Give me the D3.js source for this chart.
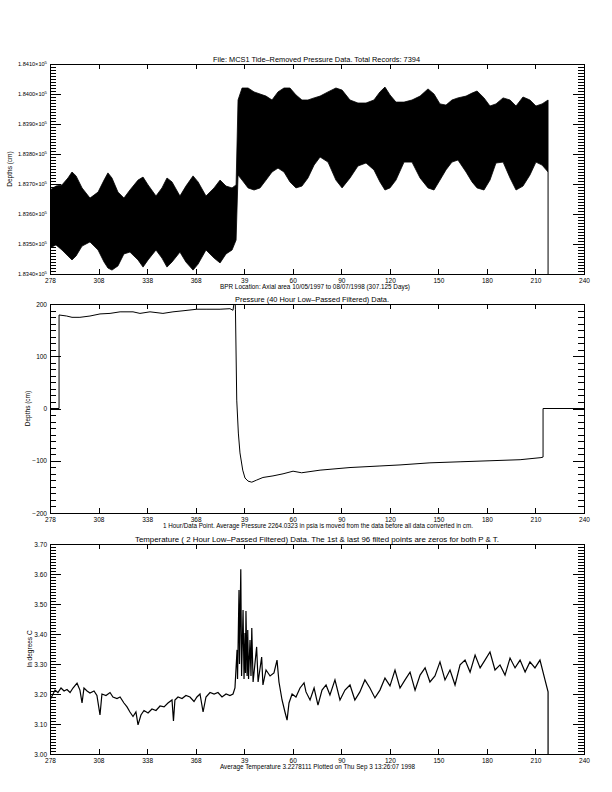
<!DOCTYPE html>
<html><head><meta charset="utf-8">
<script src="https://cdn.jsdelivr.net/npm/d3@7"></script>
<style>
body{margin:0;background:#fff}
svg{display:block}
text{font-family:"Liberation Sans",Arial,sans-serif;font-size:6.5px;fill:#000}
</style></head>
<body><svg id="c" width="612" height="792"></svg>
<script>
// ---------- data ----------
const xTicks = [278,308,338,368,398,428,458,488,518,548,578,608];
const xTickLabels = ["278","308","338","368","39","60","90","120","150","180","210","240"];

// Panel 1: tide-removed pressure (cm), envelope of the dense signal
const bandDays = [278.0,281.7,285.4,289.1,291.6,294.1,297.8,302.7,307.7,311.4,313.8,316.3,320.0,323.7,327.4,332.4,335.5,338.6,343.5,347.2,350.3,353.4,358.3,362.0,366.4,369.5,374.4,379.4,383.1,386.8,390.5,393.0,
 394.2,396.7,400.4,404.1,407.8,411.5,415.2,418.9,422.6,426.3,430.0,433.7,437.4,441.2,444.9,449.8,454.7,458.5,463.4,468.3,473.3,478.2,481.9,485.0,488.1,491.8,496.8,501.7,506.7,511.6,515.3,519.0,522.7,526.4,530.1,535.1,538.8,541.9,546.2,549.9,553.6,558.0,562.3,566.0,570.3,574.6,578.3,582.1,585.8];
const bandHigh = [183680,183693,183697,183720,183740,183727,183687,183653,183673,183713,183737,183720,183673,183653,183680,183713,183723,183697,183660,183687,183720,183707,183660,183693,183727,183707,183660,183687,183713,183693,183687,183697,
 183980,184020,184020,184007,184000,183993,183980,184007,184020,184020,183997,183980,183980,183987,183993,184007,184020,184013,183980,183970,183970,183980,184007,184023,183997,183973,183973,183980,183993,184017,184000,183967,183963,183980,183987,183993,184003,184010,183987,183960,183967,183987,183980,183960,183990,183980,183960,183967,183980];
const bandLow = [183487,183497,183480,183460,183447,183460,183493,183507,183480,183440,183420,183413,183427,183467,183473,183447,183423,183447,183480,183453,183423,183440,183473,183440,183413,183433,183480,183453,183437,183467,183480,183513,
 183730,183713,183687,183680,183687,183713,183740,183753,183740,183707,183687,183693,183720,183763,183790,183773,183713,183687,183720,183760,183770,183747,183707,183680,183687,183713,183773,183773,183720,183687,183680,183713,183747,183773,183780,183740,183707,183687,183680,183713,183770,183773,183720,183680,183693,183730,183773,183763,183740];
const bandTailDays = [585.8,585.8];
const bandTailVals = [183740,0];

// Panel 2: 40 hour low-passed pressure (cm)
const presDays = [278.0,283.6,283.6,288.3,291.6,296.5,302.7,308.9,315.1,321.3,329.3,333.6,339.8,347.8,354.0,360.2,368.8,375.0,383.1,389.2,391.1,392.3,392.6,393.4,394.4,395.4,397.1,398.5,400.4,402.7,405.7,409.6,415.8,422.0,428.2,433.5,444.9,463.4,481.9,494.3,512.8,531.4,549.9,568.5,581.4,582.7,582.7,608];
const presVals = [0,0,179,177,174.5,174.5,177,181,182,185,185,182,185,182,185,187,190,190,190,191,188,214,190,16,-47,-85,-118,-133,-139,-141,-137,-132,-129,-125,-120,-123,-118,-113,-110,-108,-104,-102,-100,-98,-94,-93,0,0];

// Panel 3: 2 hour low-passed temperature (deg C)
const tempDays = [278.0,279.9,281.1,282.9,284.8,286.7,288.5,290.4,292.2,294.7,296.5,297.8,299.0,300.9,302.7,305.2,307.0,308.9,310.1,312.6,315.1,316.9,319.4,321.3,323.7,325.6,327.4,329.3,331.1,332.4,334.2,336.1,338.6,341.0,343.5,346.0,348.5,350.9,353.4,354.3,355.2,357.1,359.6,362.0,364.5,367.0,368.8,370.7,372.6,374.4,376.9,379.4,381.8,384.3,386.8,389.2,391.1,392.3,393.6,393.9,394.8,395.1,395.9,396.4,397.3,397.9,398.5,398.8,399.1,399.8,400.2,400.7,401.6,402.2,402.7,403.5,405.7,406.6,408.8,409.6,411.5,414.0,416.4,418.3,419.5,421.4,423.2,424.5,425.7,427.6,430.0,432.5,435.0,
 436.2,438.7,441.2,443.6,446.1,448.6,451.0,454.1,457.2,460.3,463.4,466.4,469.5,472.6,475.7,478.8,481.9,485.0,488.1,491.2,494.3,497.4,500.5,503.6,506.7,509.8,512.8,515.9,519.0,522.1,525.2,528.3,531.4,534.5,537.6,540.7,543.8,546.8,549.9,553.0,556.1,559.2,562.3,565.4,568.5,571.6,574.6,577.7,580.8,583.9,585.8,585.8];
const tempVals = [3.18,3.20,3.213,3.205,3.22,3.21,3.215,3.205,3.22,3.236,3.213,3.17,3.22,3.21,3.203,3.21,3.195,3.13,3.20,3.195,3.205,3.19,3.185,3.19,3.17,3.157,3.14,3.125,3.14,3.097,3.13,3.145,3.137,3.15,3.145,3.16,3.157,3.17,3.18,3.11,3.18,3.19,3.185,3.195,3.19,3.175,3.19,3.20,3.14,3.19,3.205,3.20,3.205,3.19,3.20,3.195,3.20,3.22,3.347,3.25,3.547,3.30,3.616,3.26,3.48,3.25,3.403,3.27,3.477,3.26,3.413,3.25,3.38,3.26,3.42,3.24,3.357,3.24,3.323,3.23,3.28,3.26,3.27,3.313,3.24,3.18,3.14,3.113,3.17,3.20,3.19,3.22,3.237,
 3.207,3.18,3.22,3.163,3.213,3.23,3.197,3.247,3.18,3.213,3.23,3.18,3.207,3.247,3.22,3.187,3.213,3.253,3.227,3.28,3.22,3.247,3.273,3.213,3.263,3.287,3.24,3.26,3.307,3.247,3.28,3.23,3.297,3.313,3.273,3.33,3.287,3.313,3.34,3.28,3.297,3.263,3.32,3.287,3.313,3.273,3.307,3.287,3.313,3.247,3.207,0];

const p1Ticks = [183400,183500,183600,183700,183800,183900,184000,184100];
const p2Ticks = [-200,-100,0,100,200];
const p3Ticks = [3.0,3.1,3.2,3.3,3.4,3.5,3.6,3.7];

// ---------- drawing ----------
const svg = d3.select("#c");
const X0 = 50, X1 = 584;
const x = d3.scaleLinear().domain([278,608]).range([X0,X1]);

function panel(p){
  const y = d3.scaleLinear().domain(p.yDomain).range([p.bottom,p.top]);
  const cid = "clip"+p.id;
  svg.append("clipPath").attr("id",cid).append("rect")
    .attr("x",X0).attr("y",p.top).attr("width",X1-X0).attr("height",p.bottom-p.top);
  const plot = svg.append("g").attr("clip-path",`url(#${cid})`);
  p.draw(plot,y);

  const ax = svg.append("g").attr("shape-rendering","crispEdges");
  const clean = g => { g.select(".domain").remove(); g.selectAll("line").attr("stroke","#000"); g.selectAll("text").attr("fill","#000"); };
  ax.append("g").attr("transform",`translate(0,${p.bottom})`)
    .call(d3.axisBottom(x).tickValues(xTicks).tickSize(-5).tickPadding(4.2).tickFormat((d,i)=>xTickLabels[i]))
    .call(clean);
  ax.append("g").attr("transform",`translate(0,${p.top})`)
    .call(d3.axisTop(x).tickValues(xTicks).tickSize(-5).tickFormat(""))
    .call(clean);
  const n = Math.round((p.yDomain[1]-p.yDomain[0])/p.minor);
  const minors = d3.range(n+1).map(i=>p.yDomain[0]+i*p.minor);
  ax.append("g").attr("transform",`translate(${X0},0)`)
    .call(d3.axisLeft(y).tickValues(minors).tickSize(-6).tickFormat(""))
    .call(clean);
  ax.append("g").attr("transform",`translate(${X1},0)`)
    .call(d3.axisRight(y).tickValues(minors).tickSize(-6).tickFormat(""))
    .call(clean);
  const left = ax.append("g").attr("transform",`translate(${X0},0)`)
    .call(d3.axisLeft(y).tickValues(p.ticks).tickSize(-11).tickPadding(3).tickFormat(p.fmt))
    .call(clean);
  ax.append("g").attr("transform",`translate(${X1},0)`)
    .call(d3.axisRight(y).tickValues(p.ticks).tickSize(-11).tickFormat(""))
    .call(clean);
  ax.selectAll("g.tick text").attr("font-family",null).attr("font-size",null);
  if (p.labelSize) left.selectAll("g.tick text").style("font-size",p.labelSize);
  if (p.sup) left.selectAll("g.tick text").append("tspan").attr("dy","-2.2").style("font-size","4.3px").text(p.sup);
  ax.append("rect").attr("x",X0+0.5).attr("y",p.top+0.5).attr("width",X1-X0).attr("height",p.bottom-p.top)
    .attr("fill","none").attr("stroke","#000");

  const t = svg.append("g");
  t.append("text").attr("x",p.titleX).attr("y",p.top-2.5).attr("textLength",p.titleW).attr("lengthAdjust","spacingAndGlyphs").text(p.title);
  t.append("text").attr("x",p.xlabX).attr("y",p.bottom+14.5).attr("textLength",p.xlabW).attr("lengthAdjust","spacingAndGlyphs").text(p.xlabel);
  t.append("text").attr("transform",`translate(${p.ylabX},${(p.top+p.bottom)/2}) rotate(-90)`)
    .attr("text-anchor","middle").text(p.ylabel);
}

panel({
  id:1, top:64, bottom:274, yDomain:[183400,184100], minor:10, ticks:p1Ticks,
  fmt:d=>(d/1e5).toFixed(4)+"×10", sup:"5", labelSize:"5.6px",
  title:"File: MCS1 Tide–Removed Pressure Data.  Total Records: 7394", titleX:213, titleW:207,
  xlabel:"BPR Location: Axial area  10/05/1997 to 08/07/1998 (307.125 Days)", xlabX:220, xlabW:190,
  ylabel:"Depths (cm)", ylabX:12,
  draw:(g,y)=>{
    const data = d3.zip(bandDays,bandLow,bandHigh);
    g.append("path").datum(data)
      .attr("d",d3.area().x(d=>x(d[0])).y0(d=>y(d[1])).y1(d=>y(d[2])))
      .attr("fill","#000").attr("stroke","#000").attr("stroke-width",0.8);
    g.append("path").datum(d3.zip(bandTailDays,bandTailVals))
      .attr("d",d3.line().x(d=>x(d[0])).y(d=>y(d[1])))
      .attr("fill","none").attr("stroke","#000").attr("stroke-width",1);
  }
});

panel({
  id:2, top:304, bottom:513, yDomain:[-200,200], minor:12.5, ticks:p2Ticks,
  fmt:d=>d===0?"0":String(d).replace("-","−"),
  title:"Pressure (40 Hour Low–Passed Filtered) Data.", titleX:235, titleW:154,
  xlabel:"1 Hour/Data Point.  Average Pressure 2264.0323 in psia is moved from the data before all data converted in cm.", xlabX:163, xlabW:310,
  ylabel:"Depths (cm)", ylabX:30,
  draw:(g,y)=>{
    g.append("path").datum(d3.zip(presDays,presVals))
      .attr("d",d3.line().x(d=>x(d[0])).y(d=>y(d[1])))
      .attr("fill","none").attr("stroke","#000").attr("stroke-width",1);
  }
});

panel({
  id:3, top:544, bottom:754, yDomain:[3.0,3.7], minor:0.01, ticks:p3Ticks,
  fmt:d=>d.toFixed(2),
  title:"Temperature ( 2 Hour Low–Passed Filtered) Data.  The 1st & last 96 filted points are zeros for both P & T.", titleX:135, titleW:364,
  xlabel:"Average Temperature  3.2278111   Plotted on Thu Sep  3 13:26:07 1998", xlabX:220, xlabW:195,
  ylabel:"In degrees C", ylabX:32,
  draw:(g,y)=>{
    g.append("path").datum(d3.zip(tempDays,tempVals))
      .attr("d",d3.line().x(d=>x(d[0])).y(d=>y(d[1])))
      .attr("fill","none").attr("stroke","#000").attr("stroke-width",1.2);
  }
});
</script></body></html>
